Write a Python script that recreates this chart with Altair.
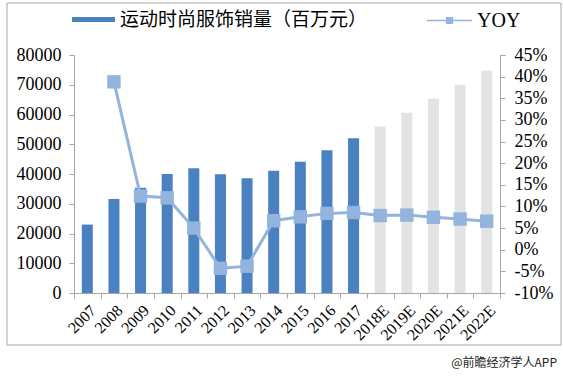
import altair as alt
import pandas as pd

years = ["2007", "2008", "2009", "2010", "2011", "2012", "2013", "2014", "2015",
         "2016", "2017", "2018E", "2019E", "2020E", "2021E", "2022E"]
sales = [23000, 31600, 35400, 40000, 41900, 39900, 38600, 41100, 44100,
         48000, 52000, 56000, 60600, 65300, 70000, 74700]
yoy = [None, 38.8, 12.4, 12.0, 5.0, -4.3, -3.8, 6.7, 7.6,
       8.4, 8.6, 7.9, 8.0, 7.5, 7.1, 6.6]
sales_label = "运动时尚服饰销量（百万元）"
forecast_label = "预测"
kinds = [sales_label] * 11 + [forecast_label] * 5
yoy_label = "YOY"
left_ticks = [0, 10000, 20000, 30000, 40000, 50000, 60000, 70000, 80000]
right_ticks = [-10, -5, 0, 5, 10, 15, 20, 25, 30, 35, 40, 45]
footer_text = "@前瞻经济学人APP"

BAR = "#4a81c0"
GREY = "#e3e3e3"
LINE = "#93b4dc"
AXIS = "#a6a6a6"
SERIF = "Liberation Serif"

df = pd.DataFrame({"year": years, "sales": sales, "yoy": yoy, "kind": kinds})
df["ser"] = yoy_label
df_yoy = df.dropna(subset=["yoy"])

xenc = alt.X("year:N", sort=years, title=None,
             scale=alt.Scale(paddingInner=0, paddingOuter=0),
             axis=alt.Axis(labelAngle=-45, tickBand="extent", labelFontSize=16,
                           labelFont=SERIF, labelColor="#000",
                           labelPadding=4, tickSize=5, domainColor=AXIS, tickColor=AXIS))

bars = alt.Chart(df).mark_bar(size=11).encode(
    x=xenc,
    y=alt.Y("sales:Q", title=None,
            scale=alt.Scale(domain=[0, 80000], nice=False),
            axis=alt.Axis(values=left_ticks, format="d", tickSize=5, labelPadding=8,
                          labelFont=SERIF, labelFontSize=18, labelColor="#000",
                          domainColor=AXIS, tickColor=AXIS)),
    color=alt.Color("kind:N",
                    scale=alt.Scale(domain=[sales_label, forecast_label], range=[BAR, GREY]),
                    legend=alt.Legend(title=None, orient="none", legendX=-2, legendY=-57,
                                      direction="horizontal", values=[sales_label],
                                      symbolType="M-1,-0.116H1V0.116H-1Z", symbolSize=1849,
                                      symbolStrokeWidth=0, labelLimit=0,
                                      labelFont="Noto Sans CJK SC", labelFontSize=19,
                                      labelColor="#000", labelOffset=5, padding=0)),
)

yscale_r = alt.Scale(domain=[-10, 45], nice=False)

line = alt.Chart(df_yoy).mark_line(color=LINE, strokeWidth=3).encode(
    x=alt.X("year:N", sort=years),
    y=alt.Y("yoy:Q", title=None, scale=yscale_r,
            axis=alt.Axis(orient="right", values=right_ticks, tickSize=5, labelPadding=9,
                          labelFont=SERIF, labelFontSize=18, labelColor="#000",
                          domainColor=AXIS, tickColor=AXIS,
                          labelExpr="datum.value + '%'")),
)

points = alt.Chart(df_yoy).mark_square(size=180, filled=True, opacity=1).encode(
    x=alt.X("year:N", sort=years),
    y=alt.Y("yoy:Q", scale=yscale_r, axis=None),
    color=alt.Color("ser:N", scale=alt.Scale(domain=[yoy_label], range=[LINE]),
                    legend=alt.Legend(title=None, orient="none", legendX=353, legendY=-57,
                                      direction="horizontal",
                                      symbolType="M-1,-0.035H1V0.035H-1Z M-0.16,-0.16H0.16V0.16H-0.16Z",
                                      symbolSize=2025, symbolStrokeWidth=0, labelLimit=0,
                                      labelFont=SERIF, labelFontSize=20,
                                      labelColor="#000", labelOffset=5, padding=0)),
)

one = pd.DataFrame({"a": [0]})
frame = alt.Chart(one).mark_rect(fillOpacity=0, stroke=AXIS, strokeWidth=1).encode(
    x=alt.value(-67), x2=alt.value(487), y=alt.value(-52), y2=alt.value(290))

footer = alt.Chart(one).mark_text(align="right", baseline="middle", fontSize=12,
                                  font="Noto Sans CJK SC", color="#222").encode(
    x=alt.value(483), y=alt.value(308), text=alt.value(footer_text))

chart = alt.layer(frame, bars, line, points, footer).resolve_scale(
    y="independent", color="independent"
).properties(
    width=426, height=238,
    background="white",
    autosize=alt.AutoSizeParams(type="none"),
    padding={"left": 74, "top": 55, "right": 63, "bottom": 83},
).configure_view(stroke=None).configure_axis(grid=False)

chart.save("out.html", embed_options={"renderer": "svg", "actions": False})
